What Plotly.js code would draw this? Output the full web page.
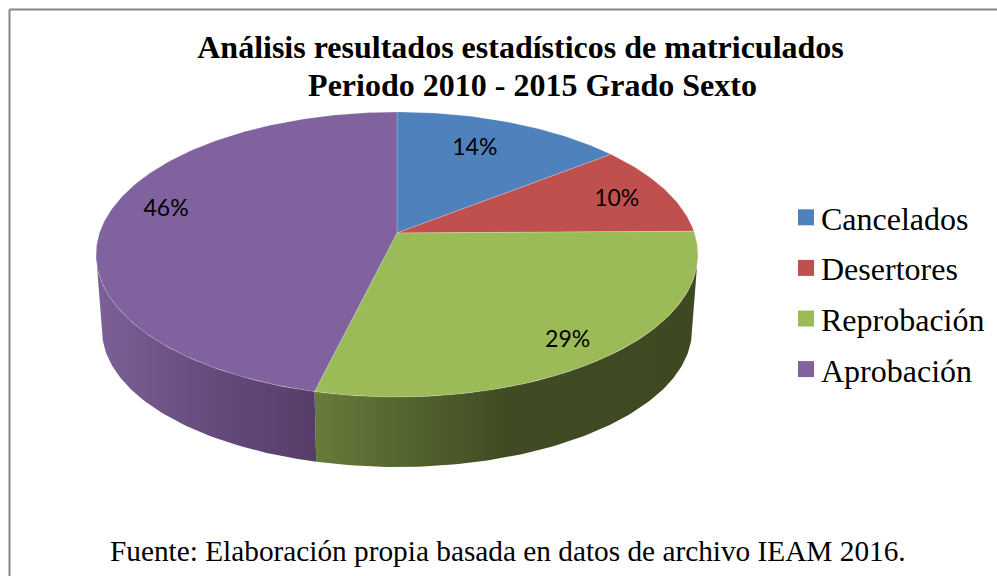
<!DOCTYPE html>
<html><head><meta charset="utf-8">
<script src="https://cdn.plot.ly/plotly-3.0.1.min.js"></script>
<style>html,body{margin:0;padding:0;background:#fff;overflow:hidden}#c{width:997px;height:576px}</style>
</head><body><div id="c"></div>
<script>
const categories = ["Cancelados", "Desertores", "Reprobación", "Aprobación"];
const shares = [14.4, 10.4, 29.0, 46.2];
const colors = ["#4F81BD", "#C0504D", "#9BBB59", "#7F629E"];
const wallGreen = [[0, "#687C3A"], [0.22, "#556630"], [0.5, "#414B23"], [1, "#3E4821"]];
const wallPurple = [[0, "#7C6098"], [0.5, "#654C7D"], [1, "#563D69"]];
const labelNudge = [[-16, 7], [4, 3], [7, 12], [2, -10]];

// tilted-disc projection, in pixel-scaled axis units
const topRim = {cx: 397, cy: 233, A: 297.5, B: 139.26, k: 0.1509};
const baseRim = {cx: 397, cy: 309.5, A: 291.6, B: 133.7, k: 0.1509};
function project(g, deg, r) {
  const t = deg * Math.PI / 180, X = Math.sin(t) * r, Y = Math.cos(t) * r, w = 1 + g.k * Y;
  return [g.cx + g.A * X / w, g.cy - g.B * Y / w];
}
function arc(g, a, b) {
  const pts = [], n = Math.max(2, Math.ceil(Math.abs(b - a)));
  for (let i = 0; i <= n; i++) pts.push(project(g, a + (b - a) * i / n, 1));
  return pts;
}
const bounds = [0];
shares.forEach(s => bounds.push(bounds[bounds.length - 1] + s * 3.6));

const traces = [];
function wall(a, b, scale, idx) {
  const pts = arc(topRim, a, b).concat(arc(baseRim, b, a));
  const xs = pts.map(p => p[0]);
  traces.push({x: xs.concat(xs[0]), y: pts.map(p => p[1]).concat(pts[0][1]),
    type: "scatter", mode: "lines", line: {width: 0}, fill: "toself", showlegend: false, hoverinfo: "skip",
    fillcolor: colors[idx],
    fillgradient: {type: "horizontal", colorscale: scale, start: Math.min.apply(null, xs), stop: Math.max.apply(null, xs)}});
}
const leftEdge = 261.3, rightEdge = 98.7;
wall(rightEdge, bounds[3], wallGreen, 2);
wall(bounds[3], leftEdge, wallPurple, 3);
shares.forEach((s, i) => {
  const pts = [[topRim.cx, topRim.cy]].concat(arc(topRim, bounds[i], bounds[i + 1]), [[topRim.cx, topRim.cy]]);
  traces.push({x: pts.map(p => p[0]), y: pts.map(p => p[1]), type: "scatter", mode: "lines",
    line: {width: 0.7, color: "rgba(255,255,255,0.3)"}, fill: "toself", fillcolor: colors[i],
    name: categories[i], legendgroup: categories[i], showlegend: false,
    hovertemplate: categories[i] + ": " + s + "%<extra></extra>"});
});
const lab = shares.map((s, i) => {
  const p = project(topRim, (bounds[i] + bounds[i + 1]) / 2, 0.8);
  return [p[0] + labelNudge[i][0], p[1] + labelNudge[i][1]];
});
traces.push({x: lab.map(p => p[0]), y: lab.map(p => p[1]), type: "scatter", mode: "text",
  text: shares.map(s => Math.round(s) + "%"), textposition: "middle center",
  textfont: {family: "Lato, Carlito, sans-serif", size: 23, color: "#000"}, showlegend: false, hoverinfo: "skip"});
categories.forEach((c, i) => traces.push({x: [null], y: [null], type: "scatter", mode: "markers", name: c,
  legendgroup: c, marker: {symbol: "square", size: 16, color: colors[i]}, hoverinfo: "skip"}));

const serif = "'Liberation Serif','Times New Roman',serif";
const layout = {
  width: 997, height: 576, margin: {l: 0, r: 0, t: 0, b: 0},
  paper_bgcolor: "#fff", plot_bgcolor: "#fff", font: {family: serif, color: "#000"},
  xaxis: {range: [0, 997], visible: false, fixedrange: true},
  yaxis: {range: [576, 0], visible: false, fixedrange: true},
  title: {text: "<b>Análisis resultados estadísticos de matriculados<br>\u00A0\u00A0\u00A0Periodo 2010 - 2015 Grado Sexto</b>",
    font: {family: serif, size: 32, color: "#000"}, x: 520.5 / 997, xanchor: "center", xref: "paper", y: 1 - 58 / 576, yanchor: "alphabetic"},
  legend: {x: 781 / 997, y: 1 - 190 / 576, xanchor: "left", yanchor: "top", font: {family: serif, size: 32, color: "#000"},
    tracegroupgap: 6, itemwidth: 30, itemsizing: "trace", bgcolor: "rgba(0,0,0,0)", traceorder: "grouped"},
  shapes: [
    {type: "line", xref: "paper", yref: "paper", x0: 9.5 / 997, x1: 9.5 / 997, y0: 0, y1: 1 - 9.5 / 576, line: {color: "#868686", width: 2}},
    {type: "line", xref: "paper", yref: "paper", x0: 9.5 / 997, x1: 1, y0: 1 - 9.5 / 576, y1: 1 - 9.5 / 576, line: {color: "#868686", width: 2}}
  ],
  annotations: [{text: "Fuente: Elaboración propia basada en datos de archivo IEAM 2016.", xref: "paper", yref: "paper",
    x: 508 / 997, y: 1 - 551 / 576, xanchor: "center", yanchor: "middle", showarrow: false, font: {family: serif, size: 29.3, color: "#000"}}]
};
Plotly.newPlot("c", traces, layout, {displayModeBar: false, responsive: false}).then(() => {
  document.querySelectorAll(".legendsymbols").forEach(g => g.setAttribute("transform", "translate(5,0)"));
  const second = document.querySelectorAll(".gtitle tspan.line")[1];
  if (second) second.setAttribute("y", parseFloat(second.getAttribute("y")) - 3.5);
});
</script></body></html>
